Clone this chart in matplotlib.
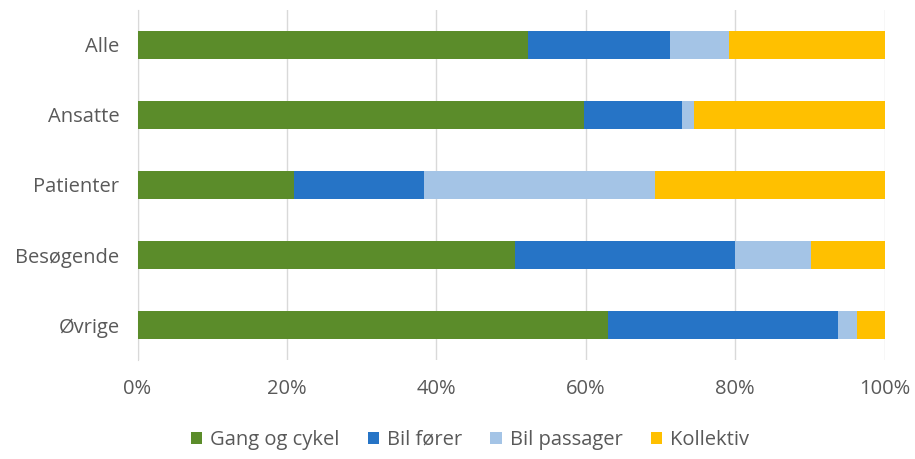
import matplotlib
matplotlib.use("Agg")
import matplotlib.pyplot as plt
from matplotlib.ticker import PercentFormatter
import numpy as np

plt.rcParams['font.family'] = ['Open Sans', 'DejaVu Sans']

categories = ["Alle", "Ansatte", "Patienter", "Besøgende", "Øvrige"]
series_names = ["Gang og cykel", "Bil fører", "Bil passager", "Kollektiv"]
gang = [52.3, 59.8, 21.0, 50.5, 63.0]
bil_forer = [19.0, 13.1, 17.3, 29.5, 30.8]
bil_passager = [7.8, 1.6, 31.0, 10.2, 2.5]
kollektiv = [20.9, 25.5, 30.7, 9.8, 3.7]
colors = ["#5B8C2A", "#2674C6", "#A4C4E6", "#FFC000"]

fig = plt.figure(figsize=(9.15, 4.59), dpi=100)
ax = fig.add_axes([137.5/915, 1 - 360/459, (884.7-137.5)/915, 350/459])

y = np.arange(len(categories))
left = np.zeros(len(categories))
for name, vals, c in zip(series_names, [gang, bil_forer, bil_passager, kollektiv], colors):
    vals = np.array(vals)
    ax.barh(y, vals, left=left, height=0.4, color=c, label=name, zorder=3)
    left += vals

ax.set_xlim(0, 100)
ax.set_ylim(len(categories) - 0.5, -0.5)
ax.set_yticks(y)
ax.set_yticklabels(categories)
ax.set_xticks(np.arange(0, 101, 20))
ax.xaxis.set_major_formatter(PercentFormatter(decimals=0))
ax.grid(axis='x', color='#D9D9D9', linewidth=1, zorder=0)
for s in ['top', 'right', 'bottom']:
    ax.spines[s].set_visible(False)
ax.spines['left'].set_color('#D9D9D9')
ax.tick_params(axis='both', length=0, labelsize=14.5, colors='#595959')
ax.tick_params(axis='x', pad=14)
ax.tick_params(axis='y', pad=13)

leg = fig.legend(loc='center', bbox_to_anchor=(470/915, 1 - 440/459), ncol=4,
                 frameon=False, fontsize=14.5, handlelength=0.55, handleheight=0.55,
                 handletextpad=0.4, columnspacing=1.4)
for t in leg.get_texts():
    t.set_color('#595959')

fig.savefig("out.png", dpi=100)
